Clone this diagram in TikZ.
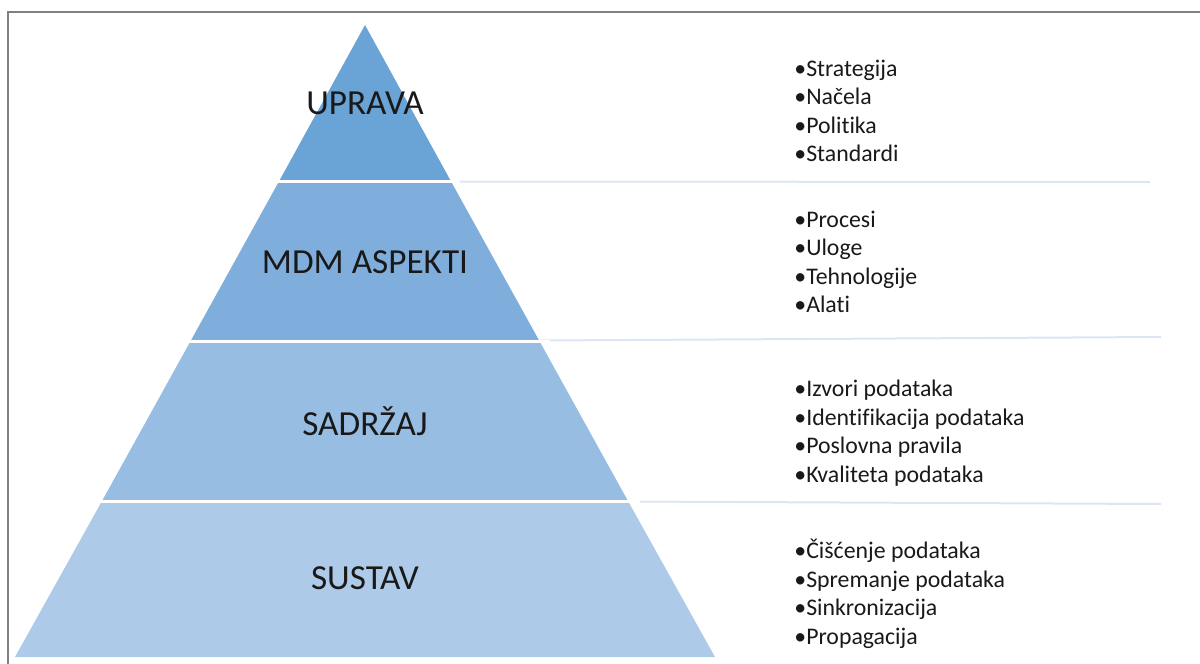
\documentclass[tikz,border=0pt]{standalone}
\usepackage{fontspec}
\setmainfont[RawFeature={-liga;-clig;-calt;-dlig}]{Carlito}
\newcommand{\nl}{\kern0pt}
\definecolor{bandA}{HTML}{6AA3D6}
\definecolor{bandB}{HTML}{7FAEDD}
\definecolor{bandC}{HTML}{98BDE2}
\definecolor{bandD}{HTML}{ADCBE8}
\definecolor{sepline}{HTML}{DCE5F3}
\definecolor{framegray}{HTML}{808080}
\tikzset{
  lvl/.style={font=\fontsize{17.6}{20}\selectfont, text=black!90, inner sep=0pt},
  blist/.style={font=\fontsize{11.9}{14.25}\selectfont, text=black!90, align=left, anchor=west, inner sep=0pt},
  gap/.style={white, line width=1.5pt},
  sep/.style={sepline, line width=1pt},
}
\begin{document}
\begin{tikzpicture}[x=0.5pt,y=-0.5pt]
\useasboundingbox (0,0) rectangle (1200,664);
% frame (cut at right and bottom)
\draw[framegray, line width=0.8pt] (8,664) -- (8,12) -- (1200,12);
% pyramid bands: apex (365,25), base (15,657)-(715,657)
\coordinate (apex) at (365,25);
\coordinate (bl) at (15,657);
\coordinate (br) at (715,657);
\fill[bandA] (apex) -- (365-85.8,181) -- (365+85.8,181) -- cycle;
\fill[bandB] (365-85.8,181) -- (365+85.8,181) -- (365+174.4,341) -- (365-174.4,341) -- cycle;
\fill[bandC] (365-174.4,341) -- (365+174.4,341) -- (365+263.0,501) -- (365-263.0,501) -- cycle;
\fill[bandD] (365-263.0,501) -- (365+263.0,501) -- (br) -- (bl) -- cycle;
% white gaps and separator lines
\coordinate (g1l) at (270,181); \coordinate (g1r) at (460,181);
\coordinate (g2l) at (180,341); \coordinate (g2r) at (550,341);
\coordinate (g3l) at (90,501);  \coordinate (g3r) at (640,501);
\coordinate (s1) at (1150,182);
\coordinate (s2) at (1161,337);
\coordinate (s3) at (1161,504);
\draw[sep] (451,181.5) -- (s1);
\draw[sep] (540,340.5) -- (s2);
\draw[sep] (628,501.5) -- (s3);
\draw[gap] (g1l) -- (g1r);
\draw[gap] (g2l) -- (g2r);
\draw[gap] (g3l) -- (g3r);
% level labels
\node[lvl] (uprava) at (365,103) {UPRAVA};
\node[lvl] (mdm) at (365,262) {MDM ASPEKTI};
\node[lvl] (sadrzaj) at (365,421) {SADRŽAJ};
\node[lvl] (sustav) at (365,578) {SUSTAV};
% bullet lists
\node[blist] (l1) at (794,111) {•Strategija\\•Načela\\•Polit\nl ika\\•Standardi};
\node[blist] (l2) at (794,262) {•Procesi\\•Uloge\\•Tehnologije\\•Alat\nl i};
\node[blist] (l3) at (794,433) {•Izvori podataka\\•Identif\nl ikacija podataka\\•Poslovna pravila\\•Kvaliteta podataka};
\node[blist] (l4) at (794,594) {•Čišćenje podataka\\•Spremanje podataka\\•Sinkronizacija\\•Propagacija};
\end{tikzpicture}
\end{document}
